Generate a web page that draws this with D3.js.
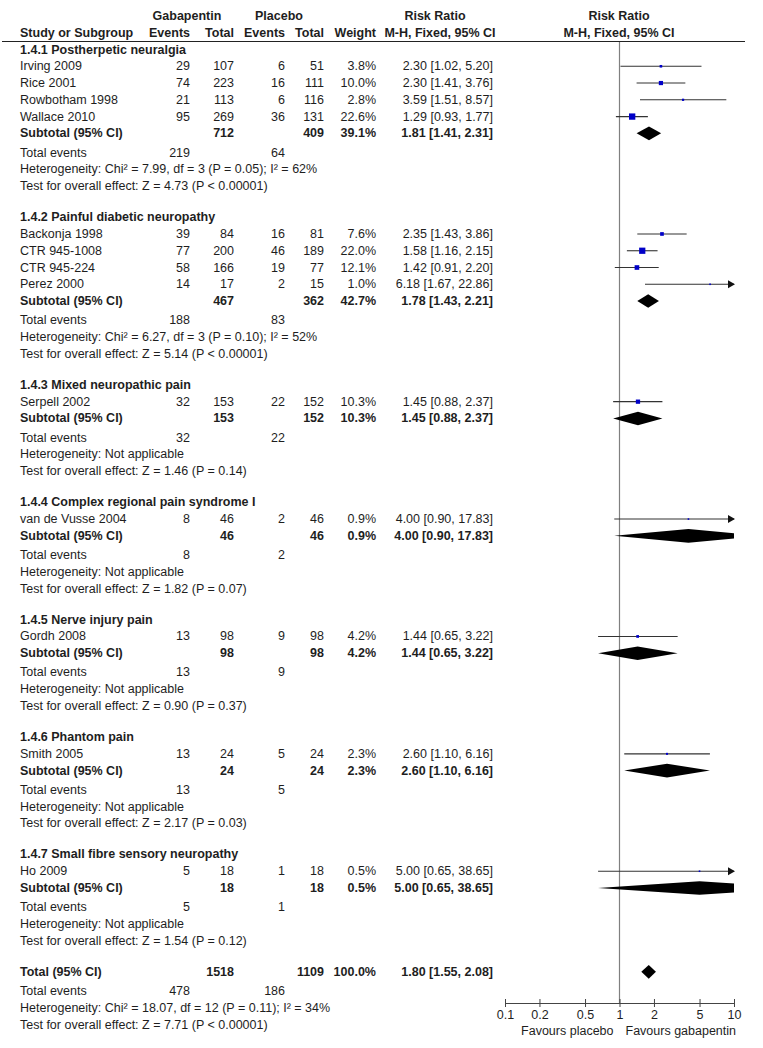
<!DOCTYPE html>
<html>
<head>
<meta charset="utf-8">
<script src="https://cdn.jsdelivr.net/npm/d3@7"></script>
<style>
  body { margin: 0; background: #fff; }
  text { font-family: "Liberation Sans", Arial, sans-serif; font-size: 12.5px; fill: #1e1e1e; }
  .b { font-weight: bold; }
</style>
</head>
<body>
<svg id="chart" width="763" height="1048"></svg>
<script>
// --- données ---
const groupLabels = [
  "1.4.1 Postherpetic neuralgia",
  "1.4.2 Painful diabetic neuropathy",
  "1.4.3 Mixed neuropathic pain",
  "1.4.4 Complex regional pain syndrome I",
  "1.4.5 Nerve injury pain",
  "1.4.6 Phantom pain",
  "1.4.7 Small fibre sensory neuropathy"
];

const studyNames = ["Irving 2009", "Rice 2001", "Rowbotham 1998", "Wallace 2010",
  "Backonja 1998", "CTR 945-1008", "CTR 945-224", "Perez 2000",
  "Serpell 2002", "van de Vusse 2004", "Gordh 2008", "Smith 2005", "Ho 2009"];
const studyGroup = [0, 0, 0, 0, 1, 1, 1, 1, 2, 3, 4, 5, 6];
const gabEvents = [29, 74, 21, 95, 39, 77, 58, 14, 32, 8, 13, 13, 5];
const gabTotal  = [107, 223, 113, 269, 84, 200, 166, 17, 153, 46, 98, 24, 18];
const plaEvents = [6, 16, 6, 36, 16, 46, 19, 2, 22, 2, 9, 5, 1];
const plaTotal  = [51, 111, 116, 131, 81, 189, 77, 15, 152, 46, 98, 24, 18];
const weights   = [3.8, 10.0, 2.8, 22.6, 7.6, 22.0, 12.1, 1.0, 10.3, 0.9, 4.2, 2.3, 0.5];
const riskRatio = [2.30, 2.30, 3.59, 1.29, 2.35, 1.58, 1.42, 6.18, 1.45, 4.00, 1.44, 2.60, 5.00];
const ciLow     = [1.02, 1.41, 1.51, 0.93, 1.43, 1.16, 0.91, 1.67, 0.88, 0.90, 0.65, 1.10, 0.65];
const ciHigh    = [5.20, 3.76, 8.57, 1.77, 3.86, 2.15, 2.20, 22.86, 2.37, 17.83, 3.22, 6.16, 38.65];

const subGabTotal  = [712, 467, 153, 46, 98, 24, 18];
const subPlaTotal  = [409, 362, 152, 46, 98, 24, 18];
const subGabEvents = [219, 188, 32, 8, 13, 13, 5];
const subPlaEvents = [64, 83, 22, 2, 9, 5, 1];
const subWeight    = [39.1, 42.7, 10.3, 0.9, 4.2, 2.3, 0.5];
const subRR        = [1.81, 1.78, 1.45, 4.00, 1.44, 2.60, 5.00];
const subLow       = [1.41, 1.43, 0.88, 0.90, 0.65, 1.10, 0.65];
const subHigh      = [2.31, 2.21, 2.37, 17.83, 3.22, 6.16, 38.65];
const subHet = [
  "Heterogeneity: Chi² = 7.99, df = 3 (P = 0.05); I² = 62%",
  "Heterogeneity: Chi² = 6.27, df = 3 (P = 0.10); I² = 52%",
  "Heterogeneity: Not applicable",
  "Heterogeneity: Not applicable",
  "Heterogeneity: Not applicable",
  "Heterogeneity: Not applicable",
  "Heterogeneity: Not applicable"
];
const subTest = ["Z = 4.73 (P < 0.00001)", "Z = 5.14 (P < 0.00001)", "Z = 1.46 (P = 0.14)",
  "Z = 1.82 (P = 0.07)", "Z = 0.90 (P = 0.37)", "Z = 2.17 (P = 0.03)", "Z = 1.54 (P = 0.12)"];

const total = { gab: 1518, pla: 1109, gabEv: 478, plaEv: 186, weight: 100.0, rr: 1.80, lo: 1.55, hi: 2.08,
  het: "Heterogeneity: Chi² = 18.07, df = 12 (P = 0.11); I² = 34%", test: "Z = 7.71 (P < 0.00001)" };

const tickValues = [0.1, 0.2, 0.5, 1, 2, 5, 10];
const favourLabels = ["Favours placebo", "Favours gabapentin"];

// --- mise en page ---
const col = { name: 20, gabEv: 190, gabTot: 234, plaEv: 285, plaTot: 324, weight: 376, rr: 493 };
const rowStep = 16.77, rowStart = 49.5;
const rowY = k => rowStart + rowStep * k;
const axisY = 1003;

const svg = d3.select("#chart");
const x = d3.scaleLog().domain([0.1, 10]).range([505, 734]);
const fmt2 = d3.format(".2f");
const ciText = (r, l, h) => `${fmt2(r)} [${fmt2(l)}, ${fmt2(h)}]`;
const pct = w => d3.format(".1f")(w) + "%";

function txt(xp, yp, s, anchor, bold) {
  svg.append("text")
    .attr("x", xp).attr("y", yp)
    .attr("text-anchor", anchor || "start")
    .attr("class", bold ? "b" : null)
    .text(s);
}

// en-tête
txt(187, 20, "Gabapentin", "middle", true);
txt(279, 20, "Placebo", "middle", true);
txt(435, 20, "Risk Ratio", "middle", true);
txt(619, 20, "Risk Ratio", "middle", true);
txt(col.name, 37, "Study or Subgroup", "start", true);
txt(col.gabEv, 37, "Events", "end", true);
txt(col.gabTot, 37, "Total", "end", true);
txt(col.plaEv, 37, "Events", "end", true);
txt(col.plaTot, 37, "Total", "end", true);
txt(col.weight, 37, "Weight", "end", true);
txt(440, 37, "M-H, Fixed, 95% CI", "middle", true);
txt(619, 37, "M-H, Fixed, 95% CI", "middle", true);
svg.append("line").attr("x1", 2).attr("x2", 745).attr("y1", 41.5).attr("y2", 41.5)
  .attr("stroke", "#222").attr("stroke-width", 1);

// ligne verticale à 1
svg.append("line").attr("x1", x(1)).attr("x2", x(1)).attr("y1", 42).attr("y2", axisY)
  .attr("stroke", "#808080").attr("stroke-width", 1.2);

svg.append("clipPath").attr("id", "plotClip")
  .append("rect").attr("x", x(0.1)).attr("y", 0).attr("width", x(10) - x(0.1)).attr("height", 1048);
const marks = svg.append("g");

function diamond(yc, r, l, h) {
  const hh = 6.8;
  marks.append("path")
    .attr("clip-path", "url(#plotClip)")
    .attr("d", `M${x(l)},${yc} L${x(r)},${yc - hh} L${x(h)},${yc} L${x(r)},${yc + hh} Z`)
    .attr("fill", "#000");
}

function study(yc, i) {
  const lo = Math.max(ciLow[i], 0.1), hi = Math.min(ciHigh[i], 10);
  marks.append("line").attr("x1", x(lo)).attr("x2", x(hi)).attr("y1", yc).attr("y2", yc)
    .attr("stroke", "#333").attr("stroke-width", 1.1);
  if (ciHigh[i] > 10) {
    const xe = x(10);
    marks.append("path").attr("d", `M${xe + 1},${yc} L${xe - 6},${yc - 4} L${xe - 6},${yc + 4} Z`).attr("fill", "#111");
  }
  const s = Math.max(1.6, 1.33 * Math.sqrt(weights[i]));
  marks.append("rect").attr("x", x(riskRatio[i]) - s / 2).attr("y", yc - s / 2)
    .attr("width", s).attr("height", s).attr("fill", "#0000c8");
}

let k = 0;
groupLabels.forEach((g, gi) => {
  txt(col.name, rowY(k) + 4, g, "start", true);
  k++;
  studyNames.forEach((n, i) => {
    if (studyGroup[i] !== gi) return;
    const yc = rowY(k), yb = yc + 4;
    txt(col.name, yb, n);
    txt(col.gabEv, yb, gabEvents[i], "end");
    txt(col.gabTot, yb, gabTotal[i], "end");
    txt(col.plaEv, yb, plaEvents[i], "end");
    txt(col.plaTot, yb, plaTotal[i], "end");
    txt(col.weight, yb, pct(weights[i]), "end");
    txt(col.rr, yb, ciText(riskRatio[i], ciLow[i], ciHigh[i]), "end");
    study(yc, i);
    k++;
  });
  let yc = rowY(k), yb = yc + 4;
  txt(col.name, yb, "Subtotal (95% CI)", "start", true);
  txt(col.gabTot, yb, subGabTotal[gi], "end", true);
  txt(col.plaTot, yb, subPlaTotal[gi], "end", true);
  txt(col.weight, yb, pct(subWeight[gi]), "end", true);
  txt(col.rr, yb, ciText(subRR[gi], subLow[gi], subHigh[gi]), "end", true);
  diamond(yc, subRR[gi], subLow[gi], subHigh[gi]);
  k++;
  yb = rowY(k) + 6.5;
  txt(col.name, yb, "Total events");
  txt(col.gabEv, yb, subGabEvents[gi], "end");
  txt(col.plaEv, yb, subPlaEvents[gi], "end");
  k++;
  txt(col.name, rowY(k) + 6.5, subHet[gi]);
  k++;
  txt(col.name, rowY(k) + 6.5, "Test for overall effect: " + subTest[gi]);
  k += 2;
});

// total général
let yc = rowY(k), yb = yc + 4;
txt(col.name, yb, "Total (95% CI)", "start", true);
txt(col.gabTot, yb, total.gab, "end", true);
txt(col.plaTot, yb, total.pla, "end", true);
txt(col.weight, yb, pct(total.weight), "end", true);
txt(col.rr, yb, ciText(total.rr, total.lo, total.hi), "end", true);
diamond(yc, total.rr, total.lo, total.hi);
k++;
yb = rowY(k) + 6.5;
txt(col.name, yb, "Total events");
txt(col.gabEv, yb, total.gabEv, "end");
txt(col.plaEv, yb, total.plaEv, "end");
k++;
txt(col.name, rowY(k) + 6.5, total.het);
k++;
txt(col.name, rowY(k) + 6.5, "Test for overall effect: " + total.test);

// axe
const axis = svg.append("g").attr("transform", `translate(0,${axisY})`)
  .call(d3.axisBottom(x).tickValues(tickValues).tickFormat(d => String(d)).tickSize(4).tickSizeOuter(0).tickPadding(4));
axis.select(".domain").attr("stroke", "#444");
axis.selectAll(".tick line").attr("stroke", "#444").attr("y1", -4).attr("y2", 4);
axis.selectAll(".tick text").attr("font-size", null).attr("font-family", null).attr("fill", null).attr("dy", "0.6em");

txt(x(1) - 6, 1035, favourLabels[0], "end");
txt(x(1) + 6, 1035, favourLabels[1], "start");
</script>
</body>
</html>
